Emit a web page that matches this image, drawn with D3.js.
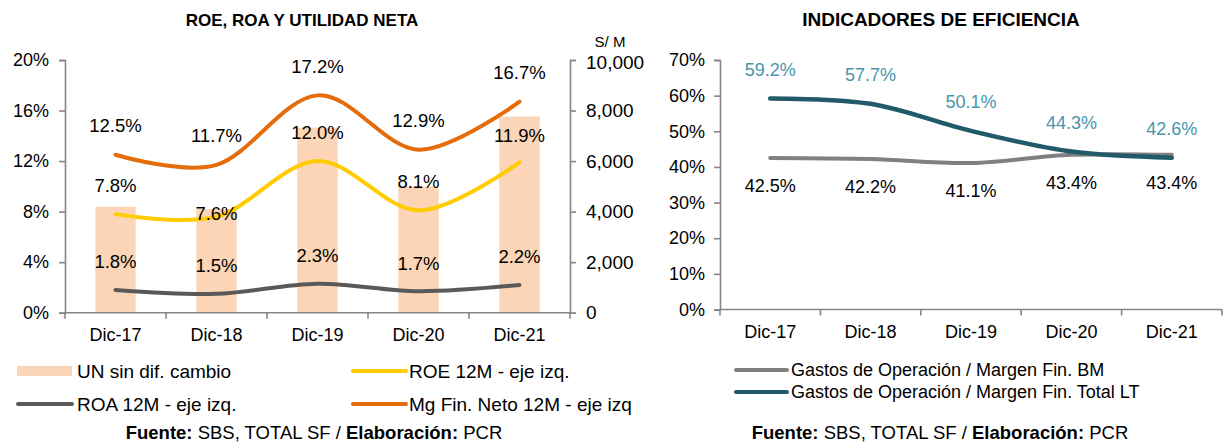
<!DOCTYPE html>
<html>
<head>
<meta charset="utf-8">
<script src="https://cdn.jsdelivr.net/npm/d3@7"></script>
<style>
  body { margin: 0; background: #fff; }
  text { font-family: "Liberation Sans", Arial, sans-serif; fill: #000; }
</style>
</head>
<body>
<svg id="chart" width="1230" height="445"></svg>
<script>
// ---- Data ----
const periods = ["Dic-17", "Dic-18", "Dic-19", "Dic-20", "Dic-21"];

// ROE, ROA y utilidad neta
const utilidadNeta = [4190, 4100, 7320, 4990, 7760];        // S/ M, eje derecho
const roe12m = [0.078, 0.076, 0.120, 0.081, 0.119];
const roa12m = [0.018, 0.015, 0.023, 0.017, 0.022];
const mgFinNeto12m = [0.125, 0.117, 0.172, 0.129, 0.167];
const pctTicksLeft = [0, 0.04, 0.08, 0.12, 0.16, 0.20];
const montoTicks = [0, 2000, 4000, 6000, 8000, 10000];

// Indicadores de eficiencia
const gastosBM = [0.425, 0.422, 0.411, 0.434, 0.434];
const gastosTotalLT = [0.592, 0.577, 0.501, 0.443, 0.426];
const pctTicksEff = [0, 0.1, 0.2, 0.3, 0.4, 0.5, 0.6, 0.7];

// ---- Styles ----
const AXIS = "#868686";
const FONT = 18;
const svg = d3.select("#chart");
svg.append("rect").attr("width", 1230).attr("height", 445).attr("fill", "#fff");

const pct1 = d3.format(".1%");
const pct0 = d3.format(".0%");
const smooth = d3.curveCardinal.tension(0);

function styleAxis(g) {
  g.selectAll("path.domain").attr("stroke", AXIS).attr("stroke-width", 1.6);
  g.selectAll(".tick line").attr("stroke", AXIS).attr("stroke-width", 1.6);
  g.selectAll("text").attr("font-size", FONT).attr("fill", "#000");
}

function categoryAxis(g, x, y0) {
  // baseline with tick marks on category boundaries
  const [r0, r1] = x.range();
  g.append("line").attr("x1", r0).attr("x2", r1).attr("y1", y0).attr("y2", y0)
    .attr("stroke", AXIS).attr("stroke-width", 1.6);
  const bounds = periods.map(p => x(p)).concat([r1]);
  g.selectAll("line.bound").data(bounds).join("line").attr("class", "bound")
    .attr("x1", d => d).attr("x2", d => d).attr("y1", y0).attr("y2", y0 + 6)
    .attr("stroke", AXIS).attr("stroke-width", 1.6);
  g.selectAll("text.cat").data(periods).join("text").attr("class", "cat")
    .attr("x", d => x(d) + x.bandwidth() / 2).attr("y", y0 + 22)
    .attr("dy", "0.35em").attr("text-anchor", "middle").attr("font-size", FONT)
    .text(d => d);
}

function sourceNote(g, x, y) {
  const f = g.append("text").attr("x", x).attr("y", y).attr("dy", "0.35em")
    .attr("text-anchor", "middle").attr("font-size", 18.5);
  f.append("tspan").attr("font-weight", "bold").text("Fuente:");
  f.append("tspan").text(" SBS, TOTAL SF / ");
  f.append("tspan").attr("font-weight", "bold").text("Elaboración:");
  f.append("tspan").text(" PCR");
}

// ================= ROE, ROA Y UTILIDAD NETA =================
{
  const x = d3.scaleBand().domain(periods).range([65, 570]).padding(0);
  const yL = d3.scaleLinear().domain([0, 0.20]).range([312.7, 60]);
  const yR = d3.scaleLinear().domain([0, 10000]).range([312.7, 60]);
  const cx = d => x(d) + x.bandwidth() / 2;
  const g = svg.append("g");

  g.append("text").attr("x", 302).attr("y", 20).attr("dy", "0.35em")
    .attr("text-anchor", "middle").attr("font-size", 17).attr("font-weight", "bold")
    .text("ROE, ROA Y UTILIDAD NETA");

  // bars
  const barW = x.bandwidth() * 0.4;
  g.selectAll("rect.un").data(periods).join("rect").attr("class", "un")
    .attr("x", d => cx(d) - barW / 2)
    .attr("width", barW)
    .attr("y", (d, i) => yR(utilidadNeta[i]))
    .attr("height", (d, i) => yR(0) - yR(utilidadNeta[i]))
    .attr("fill", "#FBD5B5");

  // axes
  const axL = g.append("g").attr("transform", "translate(65,0)")
    .call(d3.axisLeft(yL).tickValues(pctTicksLeft).tickFormat(pct0).tickSizeOuter(0).tickSize(6).tickPadding(10));
  styleAxis(axL);
  const axR = g.append("g").attr("transform", "translate(570,0)")
    .call(d3.axisRight(yR).tickValues(montoTicks).tickFormat(d3.format(",")).tickSizeOuter(0).tickSize(6).tickPadding(10));
  styleAxis(axR);
  axR.selectAll("text").attr("font-size", 19);
  axR.selectAll(".tick text").filter(d => d === 10000).attr("dy", "0.45em");
  g.append("text").attr("x", 610).attr("y", 42).attr("dy", "0.35em")
    .attr("text-anchor", "middle").attr("font-size", 15).text("S/ M");
  categoryAxis(g, x, 312.7);

  const series = [
    { vals: mgFinNeto12m, color: "#E46C0A", lift: [29, 29, 29, 29, 29] },
    { vals: roe12m, color: "#FFCC00", lift: [29, 3, 29, 29, 27] },
    { vals: roa12m, color: "#595959", lift: [28, 28, 28, 28, 28] }
  ];
  const line = d3.line().curve(smooth);
  series.forEach(s => {
    g.append("path")
      .attr("d", line(periods.map((p, i) => [cx(p), yL(s.vals[i])])))
      .attr("fill", "none").attr("stroke", s.color).attr("stroke-width", 4)
      .attr("stroke-linecap", "round");
  });
  series.forEach(s => {
    g.selectAll(null).data(periods).join("text")
      .attr("x", d => cx(d))
      .attr("y", (d, i) => yL(s.vals[i]) - s.lift[i])
      .attr("dy", "0.35em").attr("text-anchor", "middle").attr("font-size", 18.5)
      .text((d, i) => pct1(s.vals[i]));
  });

  // legend
  const LF = 19;
  const lg = g.append("g");
  lg.append("rect").attr("x", 17).attr("y", 366).attr("width", 55).attr("height", 10).attr("fill", "#FBD5B5");
  lg.append("text").attr("x", 77).attr("y", 371).attr("dy", "0.35em").attr("font-size", LF).text("UN sin dif. cambio");
  lg.append("line").attr("x1", 353).attr("x2", 406).attr("y1", 371).attr("y2", 371)
    .attr("stroke", "#FFCC00").attr("stroke-width", 4).attr("stroke-linecap", "round");
  lg.append("text").attr("x", 409).attr("y", 371).attr("dy", "0.35em").attr("font-size", LF).text("ROE 12M - eje izq.");
  lg.append("line").attr("x1", 18).attr("x2", 72).attr("y1", 404).attr("y2", 404)
    .attr("stroke", "#595959").attr("stroke-width", 4).attr("stroke-linecap", "round");
  lg.append("text").attr("x", 77).attr("y", 404).attr("dy", "0.35em").attr("font-size", LF).text("ROA 12M - eje izq.");
  lg.append("line").attr("x1", 353).attr("x2", 406).attr("y1", 404).attr("y2", 404)
    .attr("stroke", "#E46C0A").attr("stroke-width", 4).attr("stroke-linecap", "round");
  lg.append("text").attr("x", 409).attr("y", 404).attr("dy", "0.35em").attr("font-size", LF).text("Mg Fin. Neto 12M - eje izq");

  sourceNote(g, 314, 433);
}

// ================= INDICADORES DE EFICIENCIA =================
{
  const x = d3.scaleBand().domain(periods).range([720, 1222]).padding(0);
  const y = d3.scaleLinear().domain([0, 0.7]).range([309.5, 60]);
  const cx = d => x(d) + x.bandwidth() / 2;
  const g = svg.append("g");

  g.append("text").attr("x", 941).attr("y", 19).attr("dy", "0.35em")
    .attr("text-anchor", "middle").attr("font-size", 19).attr("font-weight", "bold")
    .text("INDICADORES DE EFICIENCIA");

  const ax = g.append("g").attr("transform", "translate(720,0)")
    .call(d3.axisLeft(y).tickValues(pctTicksEff).tickFormat(pct0).tickSizeOuter(0).tickSize(6).tickPadding(9));
  styleAxis(ax);
  categoryAxis(g, x, 309.5);

  const line = d3.line().curve(smooth);
  g.append("path")
    .attr("d", line(periods.map((p, i) => [cx(p), y(gastosBM[i])])))
    .attr("fill", "none").attr("stroke", "#808080").attr("stroke-width", 4).attr("stroke-linecap", "round");
  g.append("path")
    .attr("d", line(periods.map((p, i) => [cx(p), y(gastosTotalLT[i])])))
    .attr("fill", "none").attr("stroke", "#215A69").attr("stroke-width", 4.5).attr("stroke-linecap", "round");

  g.selectAll(null).data(periods).join("text")
    .attr("x", d => cx(d)).attr("y", (d, i) => y(gastosTotalLT[i]) - 29)
    .attr("dy", "0.35em").attr("text-anchor", "middle").attr("font-size", FONT)
    .style("fill", "#4795AE").text((d, i) => pct1(gastosTotalLT[i]));
  g.selectAll(null).data(periods).join("text")
    .attr("x", d => cx(d)).attr("y", (d, i) => y(gastosBM[i]) + 28)
    .attr("dy", "0.35em").attr("text-anchor", "middle").attr("font-size", FONT)
    .text((d, i) => pct1(gastosBM[i]));

  const lg = g.append("g");
  lg.append("line").attr("x1", 736).attr("x2", 787).attr("y1", 370).attr("y2", 370)
    .attr("stroke", "#808080").attr("stroke-width", 4).attr("stroke-linecap", "round");
  lg.append("text").attr("x", 791).attr("y", 370).attr("dy", "0.35em").attr("font-size", FONT)
    .text("Gastos de Operación / Margen Fin. BM");
  lg.append("line").attr("x1", 736).attr("x2", 787).attr("y1", 392).attr("y2", 392)
    .attr("stroke", "#215A69").attr("stroke-width", 4).attr("stroke-linecap", "round");
  lg.append("text").attr("x", 791).attr("y", 392).attr("dy", "0.35em").attr("font-size", FONT)
    .text("Gastos de Operación / Margen Fin. Total LT");

  sourceNote(g, 940, 433);
}
</script>
</body>
</html>
